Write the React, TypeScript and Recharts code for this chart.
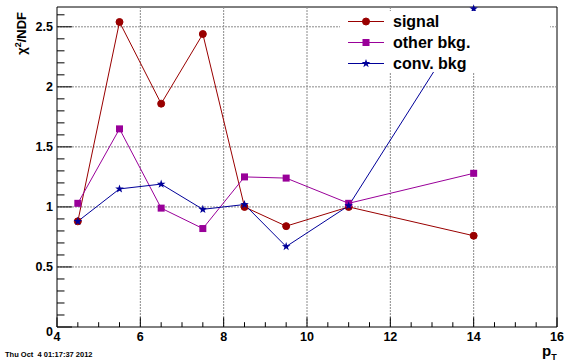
import { LineChart, Line, XAxis, YAxis, ReferenceLine, ReferenceArea, Legend, Label } from 'recharts'

// chi2/NDF per pT bin
const ptBins = [4.5, 5.5, 6.5, 7.5, 8.5, 9.5, 11, 14]
const signalChi2 = [0.88, 2.54, 1.86, 2.44, 1.0, 0.84, 1.0, 0.76]
const otherBkgChi2 = [1.03, 1.65, 0.99, 0.82, 1.25, 1.24, 1.03, 1.28]
const convBkgChi2 = [0.88, 1.15, 1.19, 0.98, 1.02, 0.67, 1.01, 2.65]

const xMajorTicks = [4, 6, 8, 10, 12, 14, 16]
const xMinorTicks = [4, 4.5, 5, 5.5, 6, 6.5, 7, 7.5, 8, 8.5, 9, 9.5, 10, 10.5, 11, 11.5, 12, 12.5, 13, 13.5, 14, 14.5, 15, 15.5, 16]
const yMajorTicks = [0, 0.5, 1, 1.5, 2, 2.5]
const yMinorTicks = [0, 0.1, 0.2, 0.3, 0.4, 0.5, 0.6, 0.7, 0.8, 0.9, 1, 1.1, 1.2, 1.3, 1.4, 1.5, 1.6, 1.7, 1.8, 1.9, 2, 2.1, 2.2, 2.3, 2.4, 2.5, 2.6]
const xGrid = [6, 8, 10, 12, 14]
const yGrid = [0.5, 1, 1.5, 2, 2.5]

const X_DOMAIN: [number, number] = [4, 16]
const Y_DOMAIN: [number, number] = [0, 2.665]

const SERIES = [
  { key: 'signal', name: 'signal', color: '#990000', marker: 'circle' },
  { key: 'other', name: 'other bkg.', color: '#990099', marker: 'square' },
  { key: 'conv', name: 'conv. bkg', color: '#000099', marker: 'star' },
]

const data = ptBins.map((x, i) => ({
  x,
  signal: signalChi2[i],
  other: otherBkgChi2[i],
  conv: convBkgChi2[i],
}))

const W = 567
const H = 364
const Y_AXIS_W = 57
const X_AXIS_H = 37
const PLOT_LEFT = Y_AXIS_W
const PLOT_BOTTOM = H - X_AXIS_H
const FONT = '"Liberation Sans", Arial, Helvetica, sans-serif'
const GRID = '#8a8a8a'

const isIn = (arr: number[], v: number) => arr.some(m => Math.abs(m - v) < 1e-6)

function Marker({ kind, cx, cy, color }: { kind: string; cx: number; cy: number; color: string }) {
  if (kind === 'circle') return <circle cx={cx} cy={cy} r={3.5} fill={color} stroke={color} />
  if (kind === 'square') return <rect x={cx - 3.5} y={cy - 3.5} width={7} height={7} fill={color} />
  const pts: string[] = []
  for (let k = 0; k < 10; k++) {
    const r = k % 2 === 0 ? 4.5 : 1.8
    const a = -Math.PI / 2 + (k * Math.PI) / 5
    pts.push(`${cx + r * Math.cos(a)},${cy + r * Math.sin(a)}`)
  }
  return <polygon points={pts.join(' ')} fill={color} />
}

function XTick(props: any) {
  const { x, payload } = props
  const v = payload.value
  const major = isIn(xMajorTicks, v)
  return (
    <g>
      <line x1={x} x2={x} y1={PLOT_BOTTOM} y2={PLOT_BOTTOM - (major ? 9.6 : 4.8)} stroke="#000" />
      {major && (
        <text x={x} y={PLOT_BOTTOM + 14} textAnchor="middle" fontFamily={FONT} fontWeight="bold" fontSize={12.5} fill="#000">
          {v}
        </text>
      )}
    </g>
  )
}

function YTick(props: any) {
  const { y, payload } = props
  const v = payload.value
  const major = isIn(yMajorTicks, v)
  return (
    <g>
      <line x1={PLOT_LEFT} x2={PLOT_LEFT + (major ? 15 : 7.5)} y1={y} y2={y} stroke="#000" />
      {major && (
        <text x={PLOT_LEFT - 4} y={y + (v === 0 ? 9 : 4.5)} textAnchor="end" fontFamily={FONT} fontWeight="bold" fontSize={12.5} fill="#000">
          {v}
        </text>
      )}
    </g>
  )
}

function LegendBox() {
  return (
    <div style={{ background: '#fff', width: 210, height: 61, fontFamily: FONT, fontWeight: 'bold', fontSize: 16, color: '#000' }}>
      {SERIES.map(s => (
        <div key={s.key} style={{ display: 'flex', alignItems: 'center', height: 21 }}>
          <svg width={53} height={21}>
            <line x1={8} x2={44} y1={10.5} y2={10.5} stroke={s.color} />
            <Marker kind={s.marker} cx={26} cy={10.5} color={s.color} />
          </svg>
          <span>{s.name}</span>
        </div>
      ))}
    </div>
  )
}

export default function App() {
  return (
    <div style={{ position: 'fixed', left: 0, top: 0, width: W, height: H, background: '#fff' }}>
      <LineChart width={W} height={H} data={data} margin={{ top: 7, right: 10, left: 0, bottom: 0 }}>
        {xGrid.map(v => (
          <ReferenceLine key={`gx${v}`} x={v} stroke={GRID} strokeDasharray="2 1" />
        ))}
        {yGrid.map(v => (
          <ReferenceLine key={`gy${v}`} y={v} stroke={GRID} strokeDasharray="2 1" />
        ))}
        <XAxis
          type="number"
          dataKey="x"
          domain={X_DOMAIN}
          ticks={xMinorTicks}
          interval={0}
          height={X_AXIS_H}
          axisLine={false}
          tickLine={false}
          tick={<XTick />}
        >
          <Label
            content={() => (
              <g fontFamily={FONT} fontWeight="bold" fill="#000">
                <text x={542} y={356} fontSize={15}>
                  p<tspan dy={4} fontSize={9}>T</tspan>
                </text>
                <text x={5} y={357} fontSize={7.5} style={{ whiteSpace: 'pre' }}>
                  Thu Oct  4 01:17:37 2012
                </text>
              </g>
            )}
          />
        </XAxis>
        <YAxis
          type="number"
          domain={Y_DOMAIN}
          ticks={yMinorTicks}
          interval={0}
          width={Y_AXIS_W}
          axisLine={false}
          tickLine={false}
          tick={<YTick />}
        >
          <Label
            content={() => (
              <text transform="translate(26,12) rotate(-90)" textAnchor="end" fontFamily={FONT} fontWeight="bold" fontSize={13} fill="#000">
                χ<tspan dy={-5} fontSize={9}>2</tspan>
                <tspan dy={5}>/NDF</tspan>
              </text>
            )}
          />
        </YAxis>
        {SERIES.map(s => (
          <Line
            key={s.key}
            type="linear"
            dataKey={s.key}
            name={s.name}
            stroke={s.color}
            strokeWidth={1}
            isAnimationActive={false}
            activeDot={false}
            dot={(p: any) => <Marker key={`${s.key}${p.index}`} kind={s.marker} cx={p.cx} cy={p.cy} color={s.color} />}
          />
        ))}
        <ReferenceArea x1={X_DOMAIN[0]} x2={X_DOMAIN[1]} y1={Y_DOMAIN[0]} y2={Y_DOMAIN[1]} fill="none" stroke="#000" strokeWidth={1} />
        <Legend
          layout="vertical"
          align="center"
          verticalAlign="middle"
          content={() => <LegendBox />}
          wrapperStyle={{ left: 340, top: 11, width: 210, height: 61 }}
        />
      </LineChart>
    </div>
  )
}
